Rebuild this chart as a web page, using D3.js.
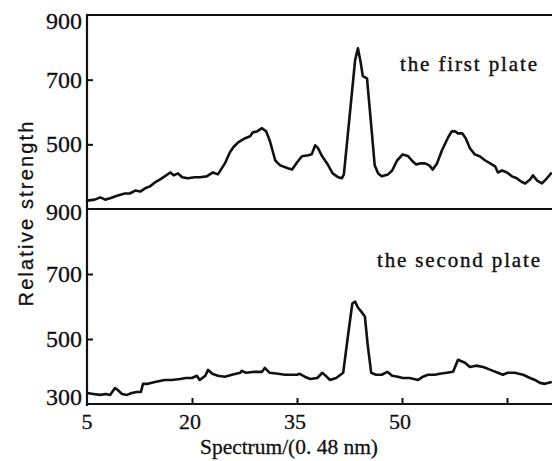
<!DOCTYPE html>
<html lang="en">
<head>
    <meta charset="UTF-8">
    <title>Relative strength</title>
    <script src="https://d3js.org/d3.v7.min.js"></script>
    <style>
        body { margin: 0; background: #fff; }
        .tick-label { font: 24px "Liberation Serif", "DejaVu Serif", serif; fill: #111; stroke: #111; stroke-width: 0.3px; }
        .x-label { font-size: 22px; }
        .x-title { font: 21px "Liberation Serif", "DejaVu Serif", serif; fill: #111; stroke: #111; stroke-width: 0.3px; }
        .note { font: 21px "Liberation Serif", "DejaVu Serif", serif; fill: #111; stroke: #111; stroke-width: 0.4px; }
        .frame { stroke: #111; stroke-width: 2.2px; fill: none; }
        .curve { stroke: #111; stroke-width: 2.6px; fill: none; stroke-linejoin: round; }
    </style>
</head>
<body>
<svg id="chart" width="552" height="461"></svg>
<script>
    // spectrum position (units of 0.48 nm)
    var firstX = [5.0, 6.1, 6.9, 7.6, 8.3, 9.4, 10.4, 11.1, 11.9, 12.6, 13.3, 14.0, 14.7, 15.4, 16.1, 16.9,
        17.4, 18.0, 18.6, 19.4, 20.4, 21.1, 22.1, 23.0, 23.7, 24.7, 25.4, 25.9, 26.6, 27.6, 28.3, 28.7,
        29.3, 30.0, 30.6, 31.1, 31.9, 32.6, 33.7, 34.3, 35.0, 35.7, 36.6, 37.1, 37.6, 38.0, 38.6, 39.3,
        40.1, 40.9, 41.4, 41.7, 42.6, 43.3, 43.7, 44.1, 44.4, 45.0, 45.6, 46.1, 46.6, 47.1, 48.0, 48.6,
        49.3, 50.1, 50.9, 51.4, 52.0, 52.6, 53.3, 53.9, 54.4, 55.0, 55.7, 56.6, 57.1, 57.6, 58.0, 58.6,
        59.1, 59.7, 60.4, 61.1, 61.9, 62.6, 63.3, 63.7, 64.3, 65.0, 65.7, 66.4, 67.0, 67.6, 68.3, 68.7,
        69.3, 70.0, 70.7, 71.4];
    var firstPlate = [326, 329, 336, 329, 333, 342, 348, 348, 357, 354, 364, 370, 382, 391, 401, 413,
        404, 410, 398, 395, 398, 398, 401, 413, 407, 441, 475, 491, 506, 519, 525, 537,
        540, 550, 540, 512, 450, 435, 426, 422, 444, 463, 466, 469, 497, 488, 463, 441,
        410, 398, 395, 407, 605, 760, 797, 753, 711, 704, 559, 435, 410, 401, 407, 419,
        450, 469, 463, 450, 438, 441, 441, 435, 422, 441, 481, 522, 540, 540, 534, 534,
        519, 488, 469, 463, 450, 441, 432, 413, 419, 413, 401, 395, 385, 379, 391, 404,
        388, 379, 395, 413];

    var secondX = [5.0, 5.9, 6.9, 7.7, 8.3, 9.0, 9.4, 10.0, 10.7, 11.4, 12.1, 12.7, 13.0, 13.7, 14.7, 15.4,
        16.1, 17.1, 18.3, 19.1, 20.0, 20.7, 21.1, 21.9, 22.3, 22.9, 23.7, 24.7, 25.7, 26.9, 27.1, 27.7,
        29.0, 30.0, 30.4, 31.1, 32.3, 33.3, 34.3, 35.0, 35.4, 36.1, 36.9, 37.9, 38.6, 39.1, 39.7, 40.6,
        41.6, 42.3, 42.9, 43.3, 43.7, 44.3, 44.7, 45.1, 45.6, 46.3, 47.1, 47.9, 48.6, 49.4, 50.1, 51.1,
        52.3, 53.0, 53.7, 54.7, 55.4, 56.4, 57.3, 58.0, 59.0, 59.7, 60.6, 61.6, 62.3, 63.0, 63.7, 64.4,
        65.1, 66.1, 67.3, 68.3, 69.0, 69.7, 70.4, 71.4];
    var secondPlate = [334, 331, 328, 331, 328, 349, 343, 331, 328, 334, 337, 337, 362, 362, 368, 371,
        374, 374, 377, 380, 380, 387, 374, 387, 405, 393, 387, 384, 390, 396, 402, 396,
        399, 399, 411, 396, 393, 390, 390, 390, 393, 384, 377, 380, 396, 387, 374, 380,
        396, 513, 609, 615, 597, 581, 569, 482, 396, 390, 390, 399, 387, 384, 380, 380,
        374, 384, 390, 390, 393, 396, 399, 436, 427, 414, 418, 414, 408, 402, 396, 390,
        396, 396, 390, 380, 374, 365, 362, 368];

    var xTicks = [5, 20, 35, 50, 65];
    var xTickLabels = ["5", "20", "35", "50", ""];
    var yTicks = [900, 700, 500, 300];
    var panelNames = ["the first plate", "the second plate"];

    var svg = d3.select("#chart");
    var left = 87, right = 552;

    var x = d3.scaleLinear().domain([5, 71.43]).range([left, right]);

    var panels = [
        {xs: firstX, ys: firstPlate, top: 15, bottom: 209, name: panelNames[0],
            noteX: 400, noteY: 71, noteLen: 137},
        {xs: secondX, ys: secondPlate, top: 209, bottom: 404, name: panelNames[1],
            noteX: 377, noteY: 267, noteLen: 163}
    ];

    panels.forEach(function (p, idx) {
        var y = d3.scaleLinear().domain([300, 900]).range([p.bottom, p.top]);

        var line = d3.line()
                .x(function (d) { return x(d[0]); })
                .y(function (d) { return y(d[1]); });

        svg.append("path")
                .attr("class", "curve")
                .attr("d", line(d3.zip(p.xs, p.ys)));

        // inward ticks on the left axis
        var axis = d3.axisRight(y)
                .tickValues([700, 500])
                .tickSize(6)
                .tickFormat("");
        svg.append("g")
                .attr("transform", "translate(" + left + ",0)")
                .call(axis)
                .call(function (g) {
                    g.select(".domain").remove();
                    g.selectAll("line").attr("stroke", "#111").attr("stroke-width", 2);
                });

        var labels = idx === 0 ? yTicks.slice(0, 3) : yTicks;
        svg.selectAll(null)
                .data(labels)
                .enter().append("text")
                .attr("class", "tick-label")
                .attr("text-anchor", "end")
                .attr("x", left - 5)
                .attr("y", function (d) {
                    var off = 8;
                    if (d === 900) off = idx === 0 ? 14 : 11;
                    if (d === 300) off = 1;
                    return y(d) + off;
                })
                .text(function (d) { return d; });

        svg.append("text")
                .attr("class", "note")
                .attr("x", p.noteX)
                .attr("y", p.noteY)
                .attr("textLength", p.noteLen)
                .attr("lengthAdjust", "spacing")
                .text(p.name);
    });

    // frame lines
    svg.append("line").attr("class", "frame")
            .attr("x1", left).attr("x2", right).attr("y1", 15).attr("y2", 15);
    svg.append("line").attr("class", "frame")
            .attr("x1", left).attr("x2", right).attr("y1", 209).attr("y2", 209);
    svg.append("line").attr("class", "frame")
            .attr("x1", left).attr("x2", left).attr("y1", 14).attr("y2", 406);

    var xAxis = d3.axisTop(x)
            .tickValues(xTicks.slice(1))
            .tickSize(6)
            .tickFormat("");
    svg.append("g")
            .attr("transform", "translate(0,404)")
            .call(xAxis)
            .call(function (g) {
                g.select(".domain").remove();
                g.selectAll("line").attr("stroke", "#111").attr("stroke-width", 2);
            });
    svg.append("line").attr("class", "frame")
            .attr("x1", left).attr("x2", right).attr("y1", 404).attr("y2", 404);

    svg.selectAll(null)
            .data(xTicks)
            .enter().append("text")
            .attr("class", "tick-label x-label")
            .attr("text-anchor", "middle")
            .attr("x", function (d) { return x(d) - (d === 5 ? 0 : 2); })
            .attr("y", 429)
            .text(function (d, i) { return xTickLabels[i]; });

    svg.append("text")
            .attr("class", "x-title")
            .attr("x", 200)
            .attr("y", 454)
            .attr("textLength", 178)
            .attr("lengthAdjust", "spacingAndGlyphs")
            .text("Spectrum/(0. 48 nm)");

    svg.append("text")
            .attr("transform", "translate(33,214) rotate(-90)")
            .attr("text-anchor", "middle")
            .attr("textLength", 185)
            .attr("lengthAdjust", "spacing")
            .style("font", "20px 'Liberation Sans', Arial, sans-serif")
            .style("fill", "#111")
            .style("stroke", "#111")
            .style("stroke-width", "0.3px")
            .text("Relative strength");
</script>
</body>
</html>
